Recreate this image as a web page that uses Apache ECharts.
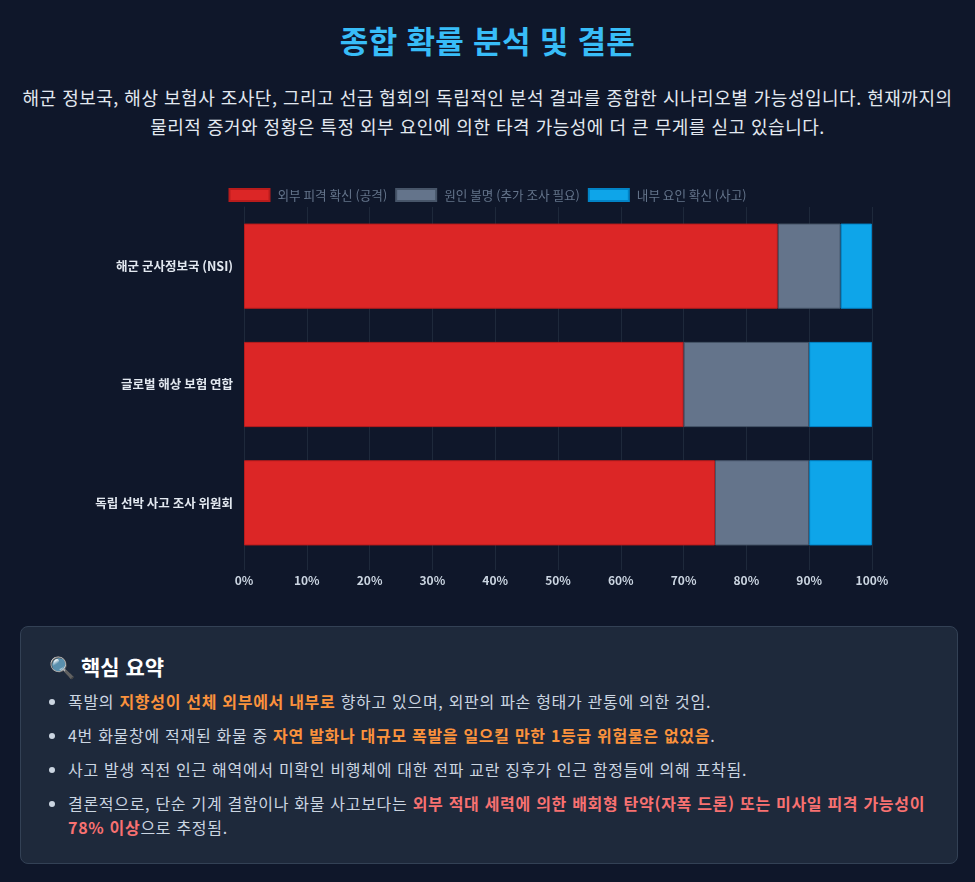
<!DOCTYPE html>
<html lang="ko">
<head>
<meta charset="UTF-8">
<title>종합 확률 분석 및 결론</title>
<script src="https://cdn.jsdelivr.net/npm/echarts@6/dist/echarts.min.js"></script>
<style>
  html, body { margin: 0; padding: 0; background: #0f172a; }
  body { width: 975px; height: 882px; position: relative; overflow: hidden;
         font-family: "Noto Sans CJK KR", "Noto Sans", sans-serif; color: #e2e8f0; word-break: keep-all; }
  h1 { position: absolute; top: 16px; left: 0; width: 975px; margin: 0; text-align: center;
       font-size: 31px; font-weight: 700; color: #38bdf8; line-height: 48px; letter-spacing: 0.3px; }
  .desc { position: absolute; top: 83px; left: 10px; width: 955px; margin: 0; text-align: center;
          font-size: 18px; line-height: 29px; color: #e2e8f0; letter-spacing: 0.5px; }
  #main { position: absolute; top: 170px; left: 20px; width: 935px; height: 430px; }
  .summary { position: absolute; top: 626px; left: 20px; width: 938px; height: 238px; box-sizing: border-box;
             background: #1e293b; border: 1px solid #334155; border-radius: 8px; padding: 24px 20px 24px 28px; }
  .summary h3 { margin: 0 0 8px 0; font-size: 21px; font-weight: 700; color: #ffffff; line-height: 30px; }
  .summary ul { margin: 0; padding-left: 19px; }
  .summary li { font-size: 16px; line-height: 24px; color: #cbd5e1; margin-bottom: 10px; letter-spacing: 0.7px; }
  .o { color: #fb923c; font-weight: 700; }
  .r { color: #f87171; font-weight: 700; }
</style>
</head>
<body>
<h1>종합 확률 분석 및 결론</h1>
<p class="desc">해군 정보국, 해상 보험사 조사단, 그리고 선급 협회의 독립적인 분석 결과를 종합한 시나리오별 가능성입니다. 현재까지의 물리적 증거와 정황은 특정 외부 요인에 의한 타격 가능성에 더 큰 무게를 싣고 있습니다.</p>
<div id="main"></div>
<div class="summary">
  <h3>🔍 핵심 요약</h3>
  <ul>
    <li>폭발의 <span class="o">지향성이 선체 외부에서 내부로</span> 향하고 있으며, 외판의 파손 형태가 관통에 의한 것임.</li>
    <li>4번 화물창에 적재된 화물 중 <span class="o">자연 발화나 대규모 폭발을 일으킬 만한 1등급 위험물은 없었음</span>.</li>
    <li>사고 발생 직전 인근 해역에서 미확인 비행체에 대한 전파 교란 징후가 인근 함정들에 의해 포착됨.</li>
    <li>결론적으로, 단순 기계 결함이나 화물 사고보다는 <span class="r">외부 적대 세력에 의한 배회형 탄약(자폭 드론) 또는 미사일 피격 가능성이 78% 이상</span>으로 추정됨.</li>
  </ul>
</div>
<script type="text/javascript">
    var categories = ['해군 군사정보국 (NSI)', '글로벌 해상 보험 연합', '독립 선박 사고 조사 위원회'];
    var seriesNames = ['외부 피격 확신 (공격)', '원인 불명 (추가 조사 필요)', '내부 요인 확신 (사고)'];
    var externalAttack = [85, 70, 75];
    var unknownCause = [10, 20, 15];
    var internalAccident = [5, 10, 10];
    var xTicks = [0, 10, 20, 30, 40, 50, 60, 70, 80, 90, 100];

    var colors = ['#dc2626', '#64748b', '#0ea5e9'];
    var borders = ['#b91c1c', '#475569', '#0284c7'];
    var values = [externalAttack, unknownCause, internalAccident];

    var myChart = echarts.init(document.getElementById('main'));
    myChart.setOption({
        backgroundColor: 'transparent',
        textStyle: { fontFamily: '"Noto Sans CJK KR", sans-serif' },
        legend: {
            top: 13,
            left: 'center',
            itemWidth: 40,
            itemHeight: 12,
            itemGap: 8,
            icon: 'rect',
            textStyle: { color: '#64748b', fontSize: 12.6, padding: [0, 0, 0, 3] },
            data: seriesNames
        },
        grid: { left: 224, right: 83, top: 37, bottom: 38, containLabel: false },
        xAxis: {
            type: 'value',
            min: xTicks[0],
            max: xTicks[xTicks.length - 1],
            interval: 10,
            axisLine: { show: false },
            axisTick: { show: true, length: 8, lineStyle: { color: '#1e293b' } },
            splitLine: { show: true, lineStyle: { color: '#1e293b', width: 1 } },
            axisLabel: { color: '#cbd5e1', fontSize: 12, fontWeight: 'bold', margin: 12,
                         formatter: function (v) { return v + '%'; } }
        },
        yAxis: {
            type: 'category',
            inverse: true,
            data: categories,
            axisLine: { show: true, lineStyle: { color: '#1e293b' } },
            axisTick: { show: false },
            splitLine: { show: false },
            axisLabel: { color: '#e2e8f0', fontSize: 12.5, fontWeight: 'bold', margin: 11 }
        },
        series: seriesNames.map(function (name, i) {
            return {
                name: name,
                type: 'bar',
                stack: 'total',
                barCategoryGap: '28%',
                data: values[i],
                itemStyle: { color: colors[i], borderColor: borders[i], borderWidth: 1 },
                emphasis: { disabled: true }
            };
        })
    });
</script>
</body>
</html>
